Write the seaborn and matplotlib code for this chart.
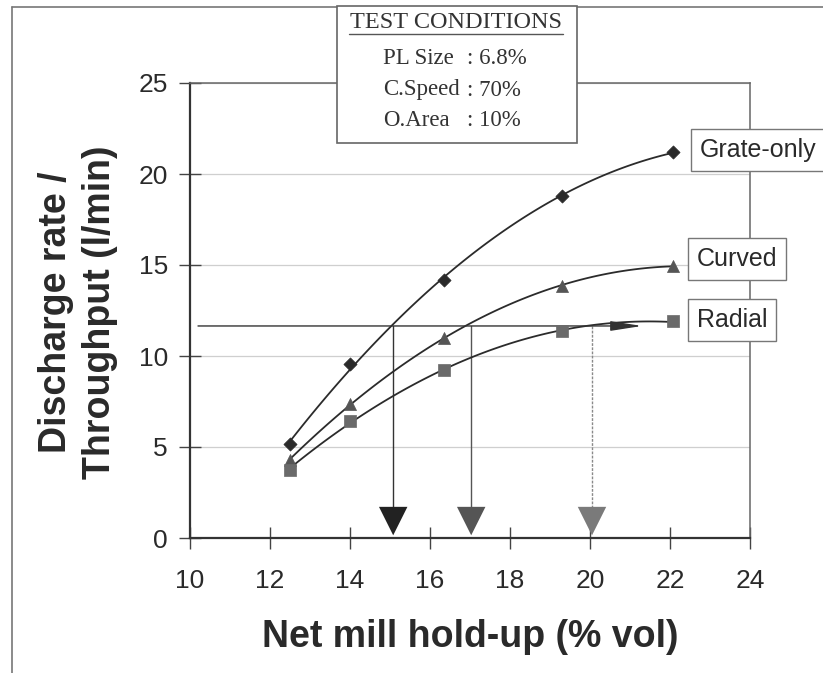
import numpy as np
import pandas as pd
import matplotlib
matplotlib.use("Agg")
import matplotlib.pyplot as plt
from matplotlib.patches import Rectangle
from matplotlib.lines import Line2D
import seaborn as sns

# ---- data ----
holdup = [12.5, 14.0, 16.35, 19.3, 22.08]
grate_only = [5.15, 9.55, 14.2, 18.8, 21.2]
curved = [4.3, 7.35, 11.0, 13.85, 14.95]
radial = [3.75, 6.45, 9.25, 11.35, 11.9]
series_names = ["Grate-only", "Curved", "Radial"]
target_rate = 11.65
intersect_x = [15.08, 17.03, 20.05]
x_ticks = [10, 12, 14, 16, 18, 20, 22, 24]
y_ticks = [0, 5, 10, 15, 20, 25]

sns.set_theme(style="white")
plt.rcParams["font.family"] = ["Liberation Sans", "DejaVu Sans"]

W, H = 823, 673
fig = plt.figure(figsize=(W / 100, H / 100), dpi=100)
ax = fig.add_axes([190 / W, 1 - 538 / H, (750 - 190) / W, (538 - 83) / H])

df = pd.DataFrame({"x": holdup * 3,
                   "y": grate_only + curved + radial,
                   "s": sum([[n] * len(holdup) for n in series_names], [])})

styles = {
    "Grate-only": dict(marker="D", color="#2a2a2a", size=45),
    "Curved": dict(marker="^", color="#555555", size=75),
    "Radial": dict(marker="s", color="#6a6a6a", size=65),
}

for name in series_names:
    sub = df[df["s"] == name]
    sns.regplot(data=sub, x="x", y="y", order=2, scatter=False, ci=None,
                truncate=True, ax=ax,
                line_kws=dict(color="#2b2b2b", lw=1.3, zorder=3))
    st = styles[name]
    sns.scatterplot(data=sub, x="x", y="y", marker=st["marker"], color=st["color"],
                    s=st["size"], edgecolor=st["color"], linewidth=0.5, ax=ax, zorder=4)

# target line and arrows
ax.annotate("", xy=(21.3, target_rate), xytext=(10.2, target_rate),
            arrowprops=dict(arrowstyle="-|>,head_length=1.6,head_width=0.25",
                            color="#333333", lw=1.0, shrinkA=0, shrinkB=0), zorder=3)
vcols = ["#333333", "#555555", "#8a8a8a"]
vls = ["-", "-", (0, (2, 1))]
for xv, c, ls in zip(intersect_x, vcols, vls):
    ax.plot([xv, xv], [target_rate, 1.0], color=c, lw=1.0, ls=ls, zorder=2)
tri_cols = ["#222222", "#555555", "#7a7a7a"]
sns.scatterplot(x=intersect_x, y=[0.93, 0.93, 0.93], marker="v", s=420,
                hue=["a", "b", "c"], palette=tri_cols, legend=False,
                edgecolor="none", ax=ax, zorder=4)

ax.set_xlim(10, 24)
ax.set_ylim(0, 25)
ax.set_xticks(x_ticks)
ax.set_yticks(y_ticks)
ax.set_xticklabels([str(t) for t in x_ticks])
ax.set_yticklabels([str(t) for t in y_ticks])
ax.tick_params(axis="both", direction="inout", length=16, width=1.0,
               color="#444444", labelsize=19, labelcolor="#2a2a2a", pad=8,
               left=True, bottom=True)
ax.tick_params(axis="x", pad=14)
ax.yaxis.grid(True, color="#cfcfcf", lw=0.9)
ax.xaxis.grid(False)
for s in ["left", "bottom"]:
    ax.spines[s].set_color("#333333")
    ax.spines[s].set_linewidth(1.6)
for s in ["top", "right"]:
    ax.spines[s].set_color("#666666")
    ax.spines[s].set_linewidth(1.1)

ax.set_xlabel("Net mill hold-up (% vol)", fontsize=27, fontweight="bold",
              color="#2a2a2a", labelpad=19)
ax.set_ylabel("Discharge rate /\nThroughput (l/min)", fontsize=27,
              fontweight="bold", color="#2a2a2a", linespacing=1.3)
ax.yaxis.set_label_coords((118 - 190) / 560, 0.497)

# series labels
lab_pos = [(700, 150), (697, 259), (697, 320)]
for name, (px, py) in zip(series_names, lab_pos):
    fig.text(px / W, 1 - py / H, name, fontsize=18, color="#2a2a2a",
             ha="left", va="center",
             bbox=dict(boxstyle="square,pad=0.35", fc="white", ec="#777777", lw=1.0),
             zorder=10)

# test conditions box
fig.add_artist(Rectangle((337 / W, 1 - 143 / H), (577 - 337) / W, (143 - 6) / H,
                         transform=fig.transFigure, fc="white", ec="#666666",
                         lw=1.2, zorder=9))
serif = ["Liberation Serif", "DejaVu Serif"]
fig.text(456 / W, 1 - 23 / H, "TEST CONDITIONS", family=serif, fontsize=17.5,
         ha="center", va="center", color="#333333", zorder=10)
fig.add_artist(Line2D([349 / W, 563 / W], [1 - 34 / H, 1 - 34 / H],
                      transform=fig.transFigure, color="#555555", lw=1.0, zorder=10))
cond_names = ["PL Size", "C.Speed", "O.Area"]
cond_vals = [": 6.8%", ": 70%", ": 10%"]
for i, (n, v) in enumerate(zip(cond_names, cond_vals)):
    yy = 1 - (59 + 31 * i) / H
    fig.text(383 / W, yy, n, family=serif, fontsize=16.5, ha="left", va="center",
             color="#333333", zorder=10)
    fig.text(467 / W, yy, v, family=serif, fontsize=16.5, ha="left", va="center",
             color="#333333", zorder=10)

# outer frame lines
fig.add_artist(Line2D([12 / W, 12 / W], [0, 1 - 7 / H], transform=fig.transFigure,
                      color="#777777", lw=1.2))
fig.add_artist(Line2D([12 / W, 1], [1 - 7 / H, 1 - 7 / H], transform=fig.transFigure,
                      color="#777777", lw=1.2))

fig.savefig("out.png", dpi=100)
